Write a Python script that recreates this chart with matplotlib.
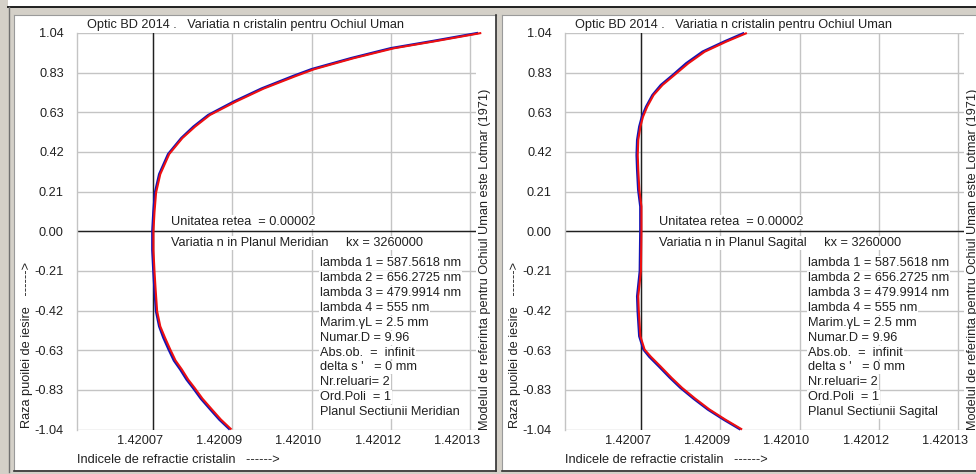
import matplotlib
matplotlib.use("Agg")
import matplotlib.pyplot as plt
from matplotlib.patches import Rectangle
from matplotlib.lines import Line2D
from matplotlib.transforms import ScaledTranslation

plt.rcParams['font.family'] = ['Liberation Sans', 'DejaVu Sans']

# ---------------- text content ----------------
title = "Optic BD 2014 .   Variatia n cristalin pentru Ochiul Uman"
x_label = "Indicele de refractie cristalin   ------>"
y_label = "Raza puoilei de iesire   ------>"
side_label = "Modelul de referinta pentru Ochiul Uman este Lotmar (1971)"
grid_unit_text = "Unitatea retea  = 0.00002"
plane_texts = ["Variatia n in Planul Meridian     kx = 3260000",
               "Variatia n in Planul Sagital     kx = 3260000"]
param_lines = ["lambda 1 = 587.5618 nm",
               "lambda 2 = 656.2725 nm",
               "lambda 3 = 479.9914 nm",
               "lambda 4 = 555 nm",
               "Marim.\u03b3L = 2.5 mm",
               "Numar.D = 9.96",
               "Abs.ob.  =  infinit",
               "delta s '   = 0 mm",
               "Nr.reluari= 2",
               "Ord.Poli  = 1"]
plane_last = ["Planul Sectiunii Meridian", "Planul Sectiunii Sagital"]

# ---------------- axes ticks ----------------
x_ticks = [1.420070, 1.420085, 1.420100, 1.420115, 1.420130]
x_tick_labels = ["1.42007", "1.42009", "1.42010", "1.42012", "1.42013"]
x_axis_value = 1.420070
y_ticks = [1.0425, 0.834, 0.6255, 0.417, 0.2085, 0.0,
           -0.2085, -0.417, -0.6255, -0.834, -1.0425]
y_tick_labels = ["1.04", "0.83", "0.63", "0.42", "0.21", "0.00",
                 "-0.21", "-0.42", "-0.63", "-0.83", "-1.04"]

# ---------------- data: Meridian plane ----------------
mer_y = [1.0425, 1.0, 0.962, 0.91, 0.852, 0.816, 0.75, 0.681, 0.611, 0.55,
         0.49, 0.406, 0.3, 0.203, 0.1, 0.0, -0.1, -0.21, -0.30, -0.42,
         -0.50, -0.56, -0.622, -0.68, -0.727, -0.78, -0.823, -0.88,
         -0.937, -0.99, -1.0425]
mer_n_blue = [1.4201316, 1.4201230, 1.4201150, 1.4201075, 1.4201000,
              1.4200965, 1.4200905, 1.4200852, 1.4200804, 1.4200776,
              1.4200753, 1.4200728, 1.4200711, 1.4200703, 1.4200700,
              1.4200698, 1.4200698, 1.4200700, 1.4200702, 1.4200705,
              1.4200711, 1.4200719, 1.4200729, 1.4200739, 1.4200751,
              1.4200763, 1.4200775, 1.4200790, 1.4200808, 1.4200825,
              1.4200845]
mer_n_red = [1.4201322, 1.4201236, 1.4201156, 1.4201080, 1.4201005,
             1.4200970, 1.4200909, 1.4200856, 1.4200807, 1.4200779,
             1.4200755, 1.4200730, 1.4200713, 1.4200705, 1.4200702,
             1.4200700, 1.4200700, 1.4200702, 1.4200704, 1.4200707,
             1.4200713, 1.4200722, 1.4200732, 1.4200742, 1.4200754,
             1.4200766, 1.4200778, 1.4200793, 1.4200811, 1.4200828,
             1.4200848]

# ---------------- data: Sagittal plane ----------------
sag_y = [1.0425, 0.997, 0.944, 0.883, 0.82, 0.769, 0.716, 0.655, 0.602,
         0.55, 0.48, 0.40, 0.323, 0.218, 0.13, 0.0, -0.21, -0.342, -0.42,
         -0.552, -0.622, -0.66, -0.71, -0.77, -0.823, -0.88, -0.937,
         -0.99, -1.0425]
sag_n_blue = [1.4200895, 1.4200857, 1.4200816, 1.4200785, 1.4200759,
              1.4200737, 1.4200721, 1.4200709, 1.4200701, 1.4200696,
              1.4200692, 1.4200691, 1.4200692, 1.4200694, 1.4200698,
              1.4200698, 1.4200697, 1.4200692, 1.4200693, 1.4200696,
              1.4200704, 1.4200715, 1.4200733, 1.4200754, 1.4200774,
              1.4200799, 1.4200826, 1.4200856, 1.4200888]
sag_n_red = [1.4200900, 1.4200861, 1.4200820, 1.4200789, 1.4200762,
             1.4200740, 1.4200723, 1.4200711, 1.4200703, 1.4200698,
             1.4200694, 1.4200693, 1.4200694, 1.4200696, 1.4200700,
             1.4200700, 1.4200699, 1.4200694, 1.4200695, 1.4200698,
             1.4200706, 1.4200718, 1.4200736, 1.4200757, 1.4200777,
             1.4200802, 1.4200829, 1.4200859, 1.4200891]

panels = [
    dict(y=mer_y, blue=mer_n_blue, red=mer_n_red, plane=plane_texts[0], last=plane_last[0]),
    dict(y=sag_y, blue=sag_n_blue, red=sag_n_red, plane=plane_texts[1], last=plane_last[1]),
]

# ---------------- figure ----------------
W, H = 976, 474
DPI = 100
WIN_GRAY = '#d4d0c8'
GRID = '#c4c4c4'
TXT = '#202020'
fig = plt.figure(figsize=(W / DPI, H / DPI), dpi=DPI, facecolor=WIN_GRAY)

bg = fig.add_axes([0, 0, 1, 1], zorder=0)
bg.set_xlim(0, W)
bg.set_ylim(H, 0)
bg.axis('off')

# window chrome
bg.add_patch(Rectangle((8, 0), W - 8, 6.5, facecolor='white', edgecolor='none'))
bg.add_line(Line2D([8, W], [7, 7], color='#202020', lw=1.4))
bg.add_line(Line2D([8.5, 8.5], [7, 472], color='#707070', lw=1.0))

FS = 9.2
offset = 488
for i, p in enumerate(panels):
    dx = i * offset
    # panel background
    x0, x1 = 14 + dx, (496 if i == 0 else W + 2)
    bg.add_patch(Rectangle((x0, 15), x1 - x0, 470 - 15, facecolor='white',
                           edgecolor='none'))
    bg.add_line(Line2D([x0, x1], [15, 15], color='#9a9a9a', lw=0.8))
    bg.add_line(Line2D([x0, x0], [15, 470], color='#9a9a9a', lw=0.8))
    bg.add_line(Line2D([x0, x1], [470.5, 470.5], color='#303030', lw=1.2))
    if i == 0:
        bg.add_line(Line2D([x1, x1], [15, 471], color='#303030', lw=1.2))

    # plot area (pixel placement)
    L, R, T, B = 77 + dx, 476 + dx, 33, 429.5
    ax = fig.add_axes([L / W, (H - B) / H, (R - L) / W, (B - T) / H], zorder=2)
    ax.set_facecolor('none')
    ax.set_xlim(1.4200555, 1.4201312)
    ax.set_ylim(-1.0425, 1.0425)
    for s in ['top', 'right', 'bottom']:
        ax.spines[s].set_visible(False)
    ax.spines['left'].set_color(GRID)
    ax.spines['left'].set_linewidth(1.0)

    for xv in x_ticks:
        ax.axvline(xv, color=GRID, lw=1.0, zorder=1)
    for yv in y_ticks:
        ax.axhline(yv, color=GRID, lw=1.0, zorder=1)
    ax.axvline(x_axis_value, color=TXT, lw=1.0, zorder=2)
    ax.axhline(0.0, color=TXT, lw=1.0, zorder=2)

    ax.set_xticks(x_ticks)
    ax.set_xticklabels(x_tick_labels, fontsize=FS, color=TXT)
    ax.set_yticks(y_ticks)
    ax.set_yticklabels(y_tick_labels, fontsize=FS, color=TXT)
    ax.tick_params(axis='both', length=0)
    ax.tick_params(axis='y', pad=9.5)
    ax.tick_params(axis='x', pad=4)
    for lab in ax.get_xticklabels():
        lab.set_transform(lab.get_transform() +
                          ScaledTranslation(-13 / DPI, 0, fig.dpi_scale_trans))

    ax.plot(p['blue'], p['y'], color='#1414b4', lw=1.8, zorder=4,
            clip_on=False, solid_capstyle='butt', solid_joinstyle='round')
    ax.plot(p['red'], p['y'], color='#ee1010', lw=1.5, zorder=5,
            clip_on=False, solid_capstyle='butt', solid_joinstyle='round')

    box = dict(facecolor='white', edgecolor='none', pad=0.6)
    ax.text(0.2356, 0.5233, grid_unit_text, transform=ax.transAxes,
            fontsize=FS, ha='left', va='center', bbox=box, zorder=6, color=TXT)
    ax.text(0.2356, 0.4704, p['plane'], transform=ax.transAxes,
            fontsize=FS, ha='left', va='center', bbox=box, zorder=6, color=TXT)
    lines = param_lines + [p['last']]
    for k, t in enumerate(lines):
        yy = 263.3 + k * 14.88
        ax.text(0.609, (B - yy) / (B - T), t, transform=ax.transAxes,
                fontsize=FS, ha='left', va='center', bbox=box, zorder=6,
                color=TXT)

    # titles / labels in pixel coordinates
    bg.text(87 + dx, 25, title, fontsize=FS, ha='left', va='center', color=TXT)
    bg.text(77 + dx, 460, x_label, fontsize=FS, ha='left', va='center', color=TXT)
    bg.text(27 + dx, 428, y_label, fontsize=FS, rotation=90, ha='center',
            va='bottom', color=TXT)
    bg.text(485 + dx, 430, side_label, fontsize=FS, rotation=90, ha='center',
            va='bottom', color=TXT)

fig.savefig('out.png', dpi=DPI, facecolor=WIN_GRAY)
